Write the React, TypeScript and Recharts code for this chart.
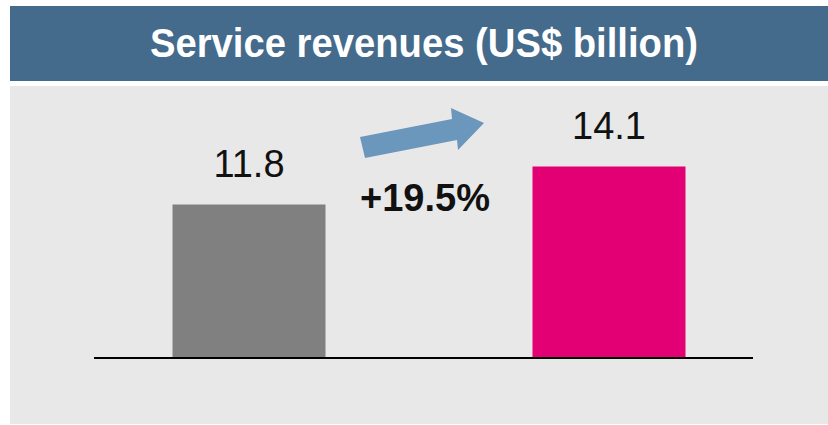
import React from 'react';
import { BarChart, Bar, XAxis, YAxis, LabelList, Cell } from 'recharts';

// ─── Data ─────────────────────────────────────────────────────────────────────

const periods = ['Prior', 'Current'];
const revenues = [11.8, 14.1];
const barColors = ['#808080', '#e20074'];
const growthLabel = '+19.5%';
const title = 'Service revenues (US$ billion)';

const data = periods.map((period, i) => ({ period, value: revenues[i] }));

// ─── Layout ───────────────────────────────────────────────────────────────────

const W = 828;
const H = 425;
const FONT = '"Liberation Sans", Arial, sans-serif';

interface LabelProps {
  x?: number;
  y?: number;
  width?: number;
  value?: number;
}

function ValueLabel({ x = 0, y = 0, width = 0, value }: LabelProps): React.ReactElement {
  return (
    <text
      x={Number(x) + Number(width) / 2}
      y={Number(y) - 27}
      textAnchor="middle"
      fontFamily={FONT}
      fontSize={38}
      fill="#111"
    >
      {Number(value).toFixed(1)}
    </text>
  );
}

export default function App(): React.ReactElement {
  return (
    <div style={{ position: 'absolute', left: 0, top: 0, width: W, height: H, background: '#fff' }}>
      {/* backdrop: header band, grey panel, title, arrow */}
      <svg width={W} height={H} style={{ position: 'absolute', left: 0, top: 0 }}>
        <rect x={10} y={6} width={818} height={75} fill="#446a8c" />
        <rect x={10} y={86} width={818} height={338} fill="#e8e8e8" />
        <text
          x={424}
          y={57}
          textAnchor="middle"
          fontFamily={FONT}
          fontWeight={700}
          fontSize={40}
          fill="#fff"
          textLength={548}
          lengthAdjust="spacingAndGlyphs"
        >
          {title}
        </text>
        <polygon
          points="360,137 365,158 457,140 458,150 484,123 451,108 452,119"
          fill="#6b97bd"
        />
        <text
          x={425}
          y={211}
          textAnchor="middle"
          fontFamily={FONT}
          fontWeight={700}
          fontSize={38}
          fill="#111"
        >
          {growthLabel}
        </text>
      </svg>

      <div style={{ position: 'absolute', left: 0, top: 0 }}>
        <BarChart
          width={W}
          height={H}
          data={data}
          margin={{ top: 69, right: 75, bottom: 0, left: 94 }}
        >
          <XAxis
            dataKey="period"
            height={67}
            padding={{ left: -25.5, right: -35.5 }}
            axisLine={{ stroke: '#000', strokeWidth: 2 }}
            tickLine={false}
            tick={false}
          />
          <YAxis hide domain={[2.5, 20]} />
          <Bar dataKey="value" barSize={153} isAnimationActive={false}>
            {data.map((d, i) => (
              <Cell key={d.period} fill={barColors[i]} />
            ))}
            <LabelList dataKey="value" content={<ValueLabel />} />
          </Bar>
        </BarChart>
      </div>
    </div>
  );
}
